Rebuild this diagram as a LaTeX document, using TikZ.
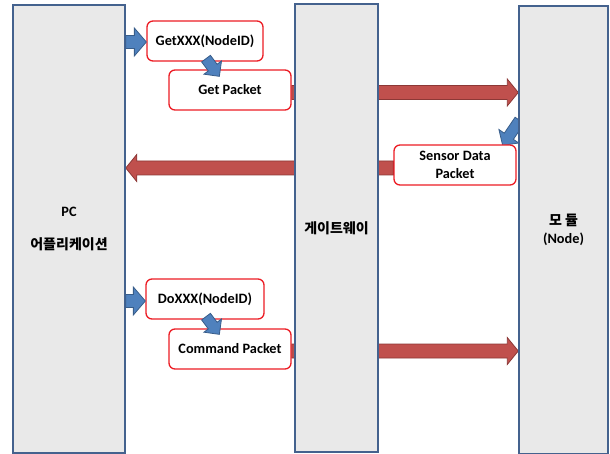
\documentclass[tikz,border=0pt]{standalone}
\usepackage{fontspec}
\setmainfont{Carlito}
\newfontfamily\krfont{Noto Sans CJK KR}
\usetikzlibrary{calc}

\definecolor{lanefill}{RGB}{233,233,233}
\definecolor{lanebd}{RGB}{68,98,142}
\definecolor{boxred}{RGB}{236,28,36}
\definecolor{redfill}{RGB}{192,80,77}
\definecolor{redbd}{RGB}{140,56,54}
\definecolor{bluefill}{RGB}{79,129,189}
\definecolor{bluebd}{RGB}{56,93,138}

\pgfdeclarelayer{back}
\pgfsetlayers{back,main}

\newcommand{\kr}[1]{{\krfont\bfseries\fontsize{14}{18}\selectfont #1}}

\tikzset{
  % block arrow geometry: shaft half width / head half width / head length
  ba/.code args={#1/#2/#3}{\def\bashaft{#1}\def\bahead{#2}\def\balen{#3}},
  blockarrow/.style={line join=miter, to path={
    ($(\tikztotarget)!\balen!(\tikztostart)$) coordinate (ba-base)
    ($(\tikztostart)!\bashaft!90:(\tikztotarget)$)
    -- ($(ba-base)!\bashaft!90:(\tikztotarget)$)
    -- ($(ba-base)!\bahead!90:(\tikztotarget)$)
    -- (\tikztotarget)
    -- ($(ba-base)!\bahead!-90:(\tikztotarget)$)
    -- ($(ba-base)!\bashaft!-90:(\tikztotarget)$)
    -- ($(\tikztostart)!\bashaft!-90:(\tikztotarget)$)
    -- cycle}},
  redarrow/.style={blockarrow, ba=7pt/13.5pt/11pt, fill=redfill, draw=redbd, line width=0.8pt},
  bluearrow/.style={blockarrow, ba=6.5pt/14pt/12pt, fill=bluefill, draw=bluebd, line width=0.8pt},
  bluestep/.style={blockarrow, ba=5.5pt/11pt/11pt, fill=bluefill, draw=bluebd, line width=0.8pt},
  lane/.style={draw=lanebd, line width=1.5pt, fill=lanefill, minimum width=#1,
    minimum height=448pt, inner sep=0pt, align=center,
    font=\bfseries\fontsize{14.3}{18}\selectfont},
  msg/.style={draw=boxred, line width=1.3pt, fill=white, rounded corners=6pt,
    minimum width=#1, minimum height=40pt, inner sep=0pt, align=center,
    font=\bfseries\fontsize{14.3}{18}\selectfont},
}

\begin{document}
\begin{tikzpicture}[x=1pt,y=-1pt]
\useasboundingbox (0,0) rectangle (610,454);

% lanes
\node[lane=112pt] (pc) at (69,229) {PC\\[15pt]\kr{어플리케이션}};
\node[lane=83pt]  (gw) at (336.5,228) {\kr{게이트웨이}};
\node[lane=89pt]  (nd) at (563.5,230) {\kr{모 듈}\\(Node)};

% messages
\node[msg=116pt] (get)  at (205,41)  {GetXXX(NodeID)};
\node[msg=122pt] (getp) at (230,90)  {Get Packet};
\node[msg=122pt] (sens) at (455,165) {Sensor Data\\Packet};
\node[msg=118pt] (dox)  at (205,299) {DoXXX(NodeID)};
\node[msg=122pt] (cmdp) at (230,349) {Command Packet};

\coordinate (r1) at ($(getp.east)+(0,2.5)$);
\coordinate (r2) at ($(sens.west)+(0,3)$);
\coordinate (r3) at ($(cmdp.east)+(0,2)$);
\coordinate (b1) at ($(get.west)+(0,1)$);
\coordinate (b2) at ($(dox.west)+(0,2)$);

% packets passing behind the lanes
\begin{pgfonlayer}{back}
  \draw[redarrow] (r1) to (r1 -| nd.west);
  \draw[redarrow] (r2) to (r2 -| pc.east);
  \draw[redarrow] (r3) to (r3 -| nd.west);
  % reply from the module, starting inside the module lane
  \draw[bluestep, ba=5.5pt/12pt/11pt] ($(sens.north east)+(3,-24)$) to ($(sens.north east)+(-14,1)$);
\end{pgfonlayer}

% calls from the application
\draw[bluearrow] (b1 -| pc.east) to (b1);
\draw[bluearrow] (b2 -| pc.east) to (b2);
\draw[bluestep] ($(get.south)+(1,-3)$) to ($(getp.north west)+(51,7)$);
\draw[bluestep] ($(dox.south)+(1,-3)$) to ($(cmdp.north west)+(51,6)$);
\end{tikzpicture}
\end{document}
